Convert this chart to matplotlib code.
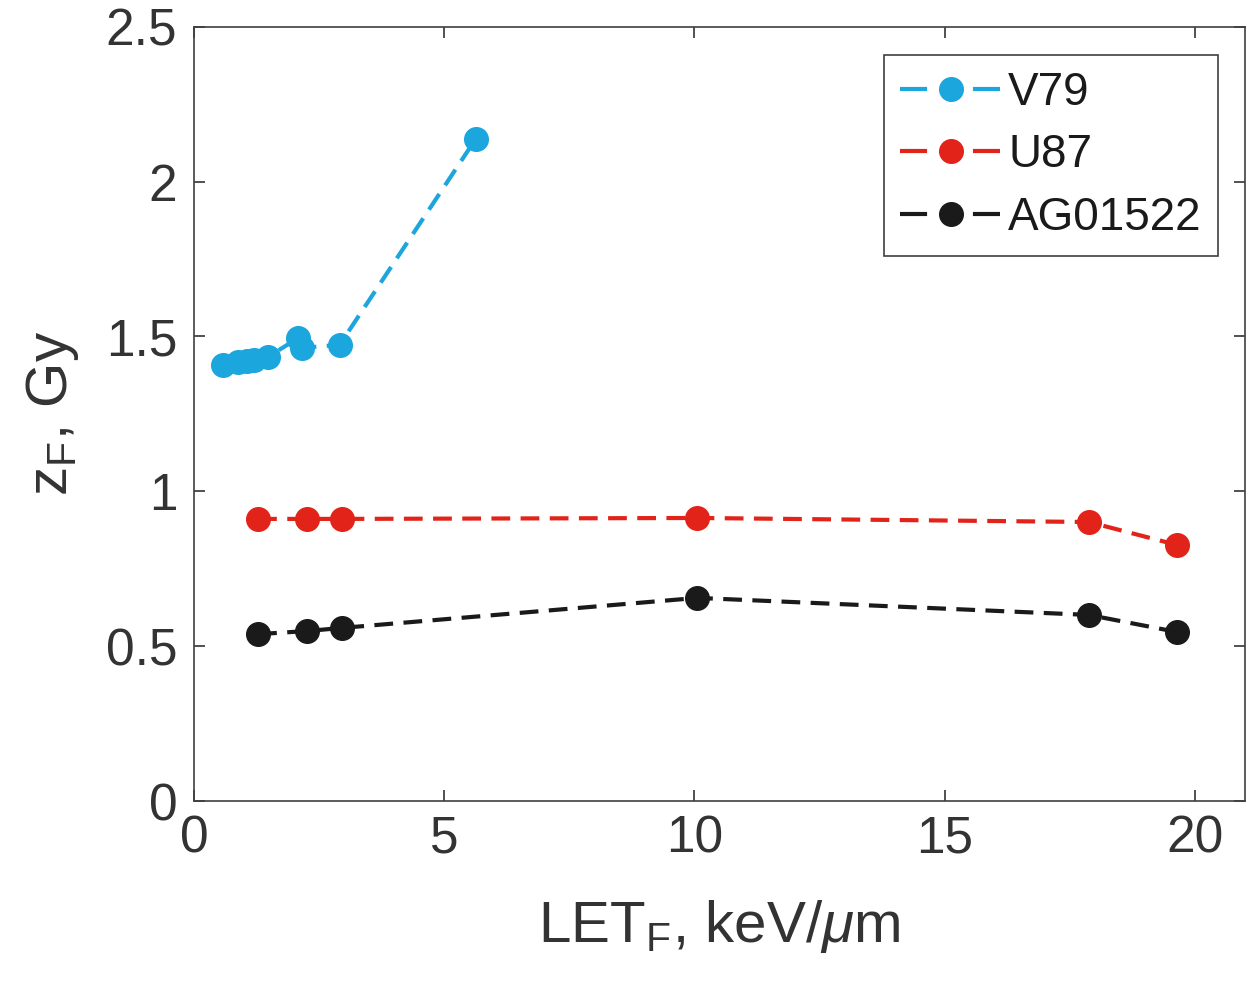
import matplotlib
matplotlib.use("Agg")
import matplotlib.pyplot as plt
from matplotlib.lines import Line2D

# V79
v79_x = [0.58, 0.88, 1.05, 1.2, 1.48, 2.08, 2.16, 2.91, 5.63]
v79_y = [1.408, 1.418, 1.420, 1.424, 1.434, 1.495, 1.463, 1.473, 2.138]
# U87
u87_x = [1.28, 2.26, 2.95, 10.06, 17.88, 19.64]
u87_y = [0.911, 0.911, 0.911, 0.914, 0.901, 0.827]
# AG01522
ag_x = [1.28, 2.26, 2.95, 10.06, 17.88, 19.64]
ag_y = [0.539, 0.549, 0.559, 0.656, 0.601, 0.546]

names = ["V79", "U87", "AG01522"]
colors = ["#1ba6dd", "#e2231a", "#1a1a1a"]

plt.rcParams["font.family"] = ["Liberation Sans", "DejaVu Sans"]
plt.rcParams["mathtext.fontset"] = "custom"
plt.rcParams["mathtext.rm"] = "Liberation Sans"
plt.rcParams["mathtext.it"] = "Liberation Sans:italic"

fig = plt.figure(figsize=(12.6, 9.89), dpi=100)
ax = fig.add_axes([0.154, 0.19, 0.834, 0.783])

style = dict(linestyle=(0, (4.5, 2.5)), linewidth=3.0, marker="o", markersize=17)
for xs, ys, c in zip([v79_x, u87_x, ag_x], [v79_y, u87_y, ag_y], colors):
    ax.plot(xs, ys, color=c, **style)

ax.set_xlim(0, 21)
ax.set_ylim(0, 2.5)
ax.set_xticks([0, 5, 10, 15, 20])
ax.set_yticks([0, 0.5, 1, 1.5, 2, 2.5])
ax.set_yticklabels(["0", "0.5", "1", "1.5", "2", "2.5"])
ax.tick_params(direction="in", length=8, width=1.2, labelsize=37,
               colors="#333333", top=True, right=True)
ax.tick_params(axis="x", pad=10)
ax.tick_params(axis="y", pad=12)
for s in ax.spines.values():
    s.set_color("#404040")
    s.set_linewidth(1.2)

ax.set_xlabel(r"LET$_\mathrm{F}$, keV/$\mathit{\mu}$m", fontsize=42, color="#333333")
ax.set_ylabel(r"z$_\mathrm{F}$, Gy", fontsize=42, color="#333333")
ax.xaxis.set_label_coords(0.5, -0.125)
ax.yaxis.set_label_coords(-0.108, 0.5)

handles = [Line2D([], [], color=c, linestyle=(0, (6.5, 11)), linewidth=3.0,
                  marker="o", markersize=17) for c in colors]
leg = ax.legend(handles, names, loc="upper right", fontsize=33, handlelength=2.2,
                borderpad=0.35, labelspacing=0.41, handletextpad=0.15,
                fancybox=False, edgecolor="#404040", framealpha=1,
                bbox_to_anchor=(0.974, 0.964), borderaxespad=0)
leg.get_frame().set_linewidth(1.2)
for t in leg.get_texts():
    t.set_color("#1a1a1a")

fig.savefig("out.png", dpi=100)
